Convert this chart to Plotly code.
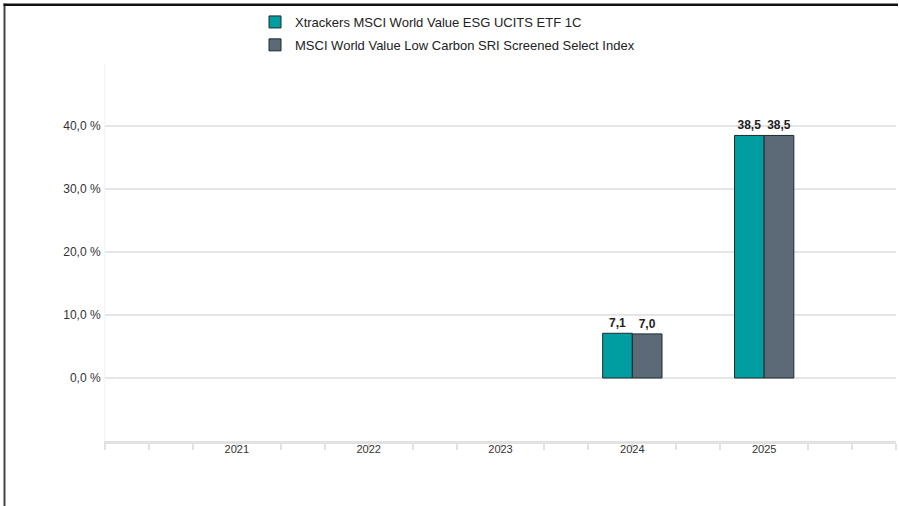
import plotly.graph_objects as go

years = ["2021", "2022", "2023", "2024", "2025"]
fund_name = "Xtrackers MSCI World Value ESG UCITS ETF 1C"
index_name = "MSCI World Value Low Carbon SRI Screened Select Index"
fund_values = [None, None, None, 7.1, 38.5]
index_values = [None, None, None, 7.0, 38.5]
y_tick_values = [0, 10, 20, 30, 40, 50]
y_tick_labels = ["0,0 %", "10,0 %", "20,0 %", "30,0 %", "40,0 %", ""]

fund_color = "#009EA0"
index_color = "#5B6A76"
outline = "#1E2A2E"


def fmt(v):
    return "" if v is None else f"{v:.1f}".replace(".", ",")


xs = list(range(len(years)))

fig = go.Figure()
fig.add_trace(go.Bar(
    x=xs, y=fund_values, name=fund_name, legendgroup="a",
    marker=dict(color=fund_color, line=dict(color=outline, width=1)),
    text=[fmt(v) for v in fund_values], textposition="outside",
    textfont=dict(family="Liberation Sans, Arial, sans-serif", size=12, color="#222222", weight="bold"),
    cliponaxis=False,
))
fig.add_trace(go.Bar(
    x=xs, y=index_values, name=index_name, legendgroup="b",
    marker=dict(color=index_color, line=dict(color=outline, width=1)),
    text=[fmt(v) for v in index_values], textposition="outside",
    textfont=dict(family="Liberation Sans, Arial, sans-serif", size=12, color="#222222", weight="bold"),
    cliponaxis=False,
))

# plot area in pixels: x 105..896, y 63..441
L, R, T, B = 105, 3, 63, 65
W, H = 899, 506
pw, ph = W - L - R, H - T - B


def px_x(p):
    return (p - L) / pw


def px_y(p):
    return (H - B - p) / ph


# outer frame (top and left edges) as thin filled rectangles
fig.add_shape(type="rect", xref="paper", yref="paper", layer="above",
              x0=px_x(3.5), x1=px_x(898), y0=px_y(6), y1=px_y(3.5),
              fillcolor="#111111", line=dict(width=0))
fig.add_shape(type="rect", xref="paper", yref="paper", layer="above",
              x0=px_x(3.5), x1=px_x(5.5), y0=px_y(506), y1=px_y(3.5),
              fillcolor="#444444", line=dict(width=0))

fig.update_layout(
    width=W, height=H,
    margin=dict(l=L, r=R, t=T, b=B),
    paper_bgcolor="white", plot_bgcolor="white",
    barmode="group", bargap=0.55, bargroupgap=0,
    font=dict(family="Liberation Sans, Arial, sans-serif", size=11, color="#333333"),
    showlegend=True,
    legend=dict(
        x=px_x(255), xanchor="left", y=px_y(7), yanchor="top",
        font=dict(size=13, color="#222222"),
        tracegroupgap=3, bgcolor="rgba(0,0,0,0)",
    ),
    xaxis=dict(
        range=[-1, 5], tickvals=xs, ticktext=years, ticks="", ticklen=0,
        showgrid=False, zeroline=False,
        showline=True, linecolor="#E2E2E2", linewidth=3,
        minor=dict(tick0=-1, dtick=1/3, ticks="outside", ticklen=6,
                   tickcolor="#E2E2E2", tickwidth=2, showgrid=False),
        tickfont=dict(size=11, color="#333333"),
        ticklabelstandoff=-4,
    ),
    yaxis=dict(
        range=[-10, 50], tickvals=y_tick_values, ticktext=y_tick_labels,
        showgrid=True, gridcolor="#E6E6E6", gridwidth=1.5,
        zeroline=False, showline=True, linecolor="#F4F4F4", linewidth=1,
        ticks="", ticklabelstandoff=1,
        tickfont=dict(size=12, color="#333333"),
    ),
)

post = (
    "document.body.style.margin='0';document.body.style.padding='0';"
    "var f=document.createElement('div');"
    "f.style.cssText='position:fixed;left:4px;top:4px;width:894px;height:2px;"
    "background:#111;z-index:10000;pointer-events:none';"
    "document.body.appendChild(f);"
)

fig.write_html("out.html", config={"displayModeBar": False}, post_script=post)
